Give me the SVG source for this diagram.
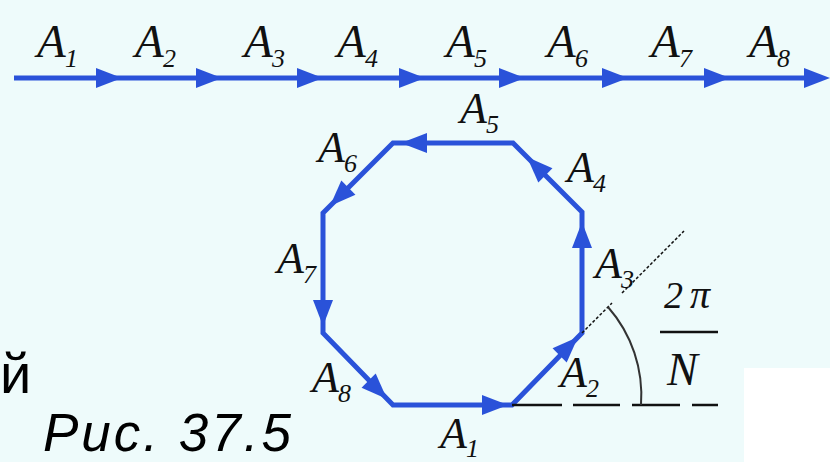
<svg xmlns="http://www.w3.org/2000/svg" xmlns:xlink="http://www.w3.org/1999/xlink" width="830" height="462" viewBox="0 0 830 462">
<style>
.lbl{font-family:"Liberation Serif","DejaVu Serif",serif;font-style:italic;fill:#111;font-size:44px}
.big{font-size:47px}
.sub{font-family:"Liberation Serif","DejaVu Serif",serif;font-style:italic;fill:#111;font-size:26px}
.edge{stroke:#2a52d9;stroke-width:5;fill:none}
.cap{font-family:"Liberation Sans","Arial",sans-serif;fill:#000}
</style>
<defs>
<path id="ah" d="M0,0 L-26,-10 L-26,10 Z" fill="#2a52d9"/>
</defs>
<rect x="0" y="0" width="830" height="462" fill="#eefbfb"/>
<rect x="744" y="368" width="86" height="94" fill="#ffffff"/>

<g id="connectors">
  <line class="edge" x1="14" y1="78" x2="810" y2="78"/>
  <use xlink:href="#ah" transform="translate(122,78)"/>
  <use xlink:href="#ah" transform="translate(222,78)"/>
  <use xlink:href="#ah" transform="translate(323,78)"/>
  <use xlink:href="#ah" transform="translate(425,78)"/>
  <use xlink:href="#ah" transform="translate(525,78)"/>
  <use xlink:href="#ah" transform="translate(628,78)"/>
  <use xlink:href="#ah" transform="translate(730,78)"/>
  <use xlink:href="#ah" transform="translate(830,78)"/>

  <polygon class="edge" stroke-linejoin="miter" points="393,405 512,405 582,333 582,212 513,143 393,143 323,213 323,333"/>
  <use xlink:href="#ah" transform="translate(508,405)"/>
  <use xlink:href="#ah" transform="translate(578,337) rotate(-45)"/>
  <use xlink:href="#ah" transform="translate(582,222) rotate(-90)"/>
  <use xlink:href="#ah" transform="translate(527,157) rotate(-135)"/>
  <use xlink:href="#ah" transform="translate(401,143) rotate(180)"/>
  <use xlink:href="#ah" transform="translate(330,206) rotate(135)"/>
  <use xlink:href="#ah" transform="translate(323,326) rotate(90)"/>
  <use xlink:href="#ah" transform="translate(387,399) rotate(45)"/>
</g>

<g id="angle">
  <line x1="512" y1="405" x2="718" y2="405" stroke="#111" stroke-width="2.5" stroke-dasharray="50 11 47 12 48 12 26"/>
  <line x1="582" y1="333" x2="612" y2="303" stroke="#111" stroke-width="1.5" stroke-dasharray="3 2"/>
  <line x1="622" y1="293" x2="684" y2="231" stroke="#111" stroke-width="1.5" stroke-dasharray="3 2"/>
  <path d="M608,307 A134,134 0 0 1 641,405" fill="none" stroke="#333" stroke-width="2"/>
  <text class="lbl" style="font-size:38px" x="664" y="308">2</text>
  <text class="lbl" style="font-size:40px" x="690" y="308">π</text>
  <line x1="660" y1="332" x2="718" y2="332" stroke="#111" stroke-width="2.5"/>
  <text class="lbl" style="font-size:46px" x="667" y="385">N</text>
</g>

<g id="top-A1"><text class="lbl big" x="37" y="57">A</text><text class="sub" x="65" y="67">1</text></g>
<g id="top-A2"><text class="lbl big" x="135" y="57">A</text><text class="sub" x="163" y="67">2</text></g>
<g id="top-A3"><text class="lbl big" x="244" y="57">A</text><text class="sub" x="272" y="67">3</text></g>
<g id="top-A4"><text class="lbl big" x="337" y="57">A</text><text class="sub" x="365" y="67">4</text></g>
<g id="top-A5"><text class="lbl big" x="446" y="57">A</text><text class="sub" x="474" y="67">5</text></g>
<g id="top-A6"><text class="lbl big" x="547" y="57">A</text><text class="sub" x="575" y="67">6</text></g>
<g id="top-A7"><text class="lbl big" x="651" y="57">A</text><text class="sub" x="679" y="67">7</text></g>
<g id="top-A8"><text class="lbl big" x="749" y="57">A</text><text class="sub" x="777" y="67">8</text></g>

<g id="oct-A5"><text class="lbl" x="460" y="123">A</text><text class="sub" x="486" y="133">5</text></g>
<g id="oct-A6"><text class="lbl" x="318" y="162">A</text><text class="sub" x="344" y="172">6</text></g>
<g id="oct-A7"><text class="lbl" x="277" y="273">A</text><text class="sub" x="303" y="283">7</text></g>
<g id="oct-A8"><text class="lbl" x="312" y="392">A</text><text class="sub" x="338" y="402">8</text></g>
<g id="oct-A1"><text class="lbl" x="440" y="448">A</text><text class="sub" x="466" y="457">1</text></g>
<g id="oct-A2"><text class="lbl" x="560" y="387">A</text><text class="sub" x="586" y="397">2</text></g>
<g id="oct-A3"><text class="lbl" x="595" y="278">A</text><text class="sub" x="621" y="288">3</text></g>
<g id="oct-A4"><text class="lbl" x="567" y="182">A</text><text class="sub" x="593" y="192">4</text></g>

<text class="cap" x="0" y="393" font-size="56">й</text>
<text class="cap" x="43" y="451" font-size="53" font-style="italic" letter-spacing="3">Рис. 37.5</text>
</svg>
